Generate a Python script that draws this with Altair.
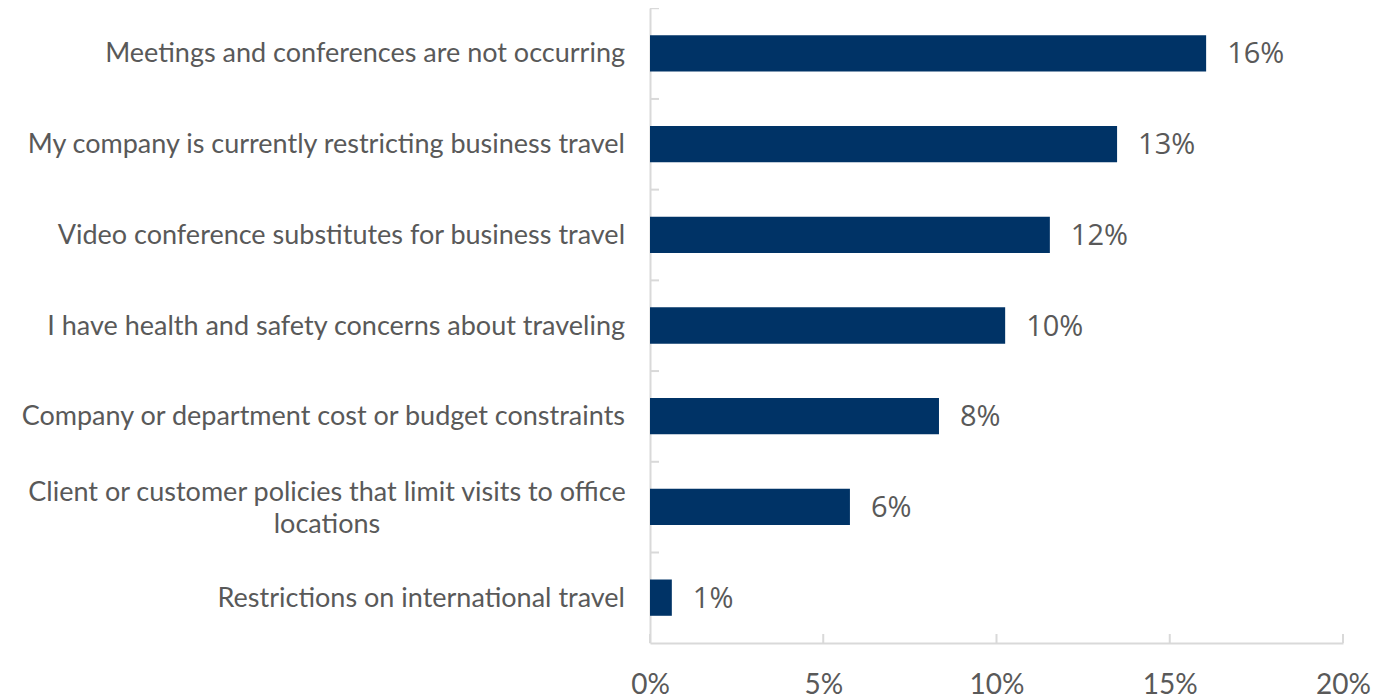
import altair as alt
import pandas as pd

categories = [
    "Meetings and conferences are not occurring",
    "My company is currently restricting business travel",
    "Video conference substitutes for business travel",
    "I have health and safety concerns about traveling",
    "Company or department cost or budget constraints",
    "Client or customer policies that limit visits to office|locations",
    "Restrictions on international travel",
]
values = [16.05, 13.48, 11.54, 10.25, 8.34, 5.77, 0.63]
value_labels = ["16%", "13%", "12%", "10%", "8%", "6%", "1%"]
x_ticks = [0, 5, 10, 15, 20]

df = pd.DataFrame({"cat": categories, "value": values, "lbl": value_labels})
df["two"] = df["cat"].str.contains(r"\|")
ticks_df = pd.DataFrame({"t": x_ticks})

NAVY = "#003366"
GRAY = "#595959"
AXIS = "#d9d9d9"
NARROW = "Lato"

yenc = alt.Y("cat:N", sort=categories,
             scale=alt.Scale(paddingInner=0.6, paddingOuter=0.3),
             axis=alt.Axis(labels=False, ticks=False, title=None, domain=True,
                           domainColor=AXIS, domainWidth=2))
xscale = alt.Scale(domain=[0, 20], nice=False)

base = alt.Chart(df)

bars = base.mark_bar(color=NAVY).encode(
    y=yenc,
    x=alt.X("value:Q", scale=xscale,
            axis=alt.Axis(values=x_ticks, ticks=False, grid=False, title=None,
                          labelExpr="datum.value + '%'", labelFont=NARROW,
                          labelFontSize=28, labelColor=GRAY, labelPadding=28,
                          labelFlush=False, labelOverlap=False,
                          domainColor=AXIS, domainWidth=2)),
)

val_text = base.mark_text(align="left", baseline="middle", dx=21, dy=1, font="Open Sans",
                          fontSize=29, color=GRAY).encode(
    y=alt.Y("cat:N", sort=categories), x=alt.X("value:Q", scale=xscale), text="lbl:N")

cat_text = base.transform_filter("!datum.two").mark_text(
    align="right", baseline="middle", dy=1, font=NARROW, fontSize=27, color=GRAY).encode(
    y=alt.Y("cat:N", sort=categories), x=alt.value(-25), text="cat:N")

cat_text2 = base.transform_filter("datum.two").mark_text(
    align="center", baseline="middle", dy=-14, font=NARROW, fontSize=27, color=GRAY,
    lineBreak="|", lineHeight=32).encode(
    y=alt.Y("cat:N", sort=categories), x=alt.value(-323), text="cat:N")

yticks = base.mark_rule(color=AXIS, strokeWidth=2).encode(
    y=alt.Y("cat:N", sort=categories, bandPosition=0),
    yOffset=alt.value(-27),
    x=alt.value(0), x2=alt.value(9))

xticks = alt.Chart(ticks_df).mark_rule(color=AXIS, strokeWidth=2).encode(
    x=alt.X("t:Q", scale=xscale), y=alt.value(626), y2=alt.value(635))

chart = alt.layer(bars, yticks, xticks, val_text, cat_text, cat_text2).properties(
    width=693, height=635,
    autosize=alt.AutoSizeParams(type="none"),
    padding={"left": 642, "top": 0, "right": 30, "bottom": 57},
).configure_view(stroke=None)

chart.save("out.html", embed_options={"renderer": "svg", "actions": False})
